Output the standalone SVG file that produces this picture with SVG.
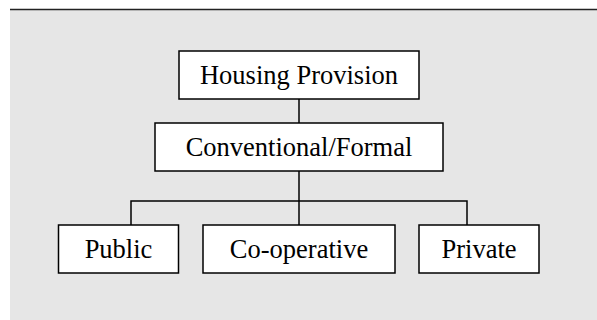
<svg xmlns="http://www.w3.org/2000/svg" width="597" height="320" viewBox="0 0 597 320">
<style>
.box{fill:#fff;stroke:#000;stroke-width:1.5}
.lbl{font-family:"Liberation Serif","Times New Roman",serif;font-size:26.5px;fill:#000;text-anchor:middle}
.con{fill:none;stroke:#000;stroke-width:1.5}
</style>
<rect x="10" y="10" width="587" height="310" fill="#e6e6e6"/>
<line x1="10" y1="9.5" x2="597" y2="9.5" stroke="#222" stroke-width="1.5"/>
<g id="connectors">
<line class="con" x1="299" y1="99" x2="299" y2="123"/>
<line class="con" x1="299" y1="171" x2="299" y2="225"/>
<polyline class="con" points="131,225 131,201 467,201 467,225"/>
</g>
<g id="housing">
<rect class="box" x="179" y="51" width="240" height="48"/>
<text class="lbl" x="299" y="84">Housing Provision</text>
</g>
<g id="conventional">
<rect class="box" x="155" y="123" width="288" height="48"/>
<text class="lbl" x="299" y="156">Conventional/Formal</text>
</g>
<g id="public">
<rect class="box" x="58.5" y="225" width="120" height="48"/>
<text class="lbl" x="118.5" y="258">Public</text>
</g>
<g id="cooperative">
<rect class="box" x="203" y="225" width="192" height="48"/>
<text class="lbl" x="299" y="258">Co-operative</text>
</g>
<g id="private">
<rect class="box" x="419" y="225" width="120" height="48"/>
<text class="lbl" x="479" y="258">Private</text>
</g>
</svg>
